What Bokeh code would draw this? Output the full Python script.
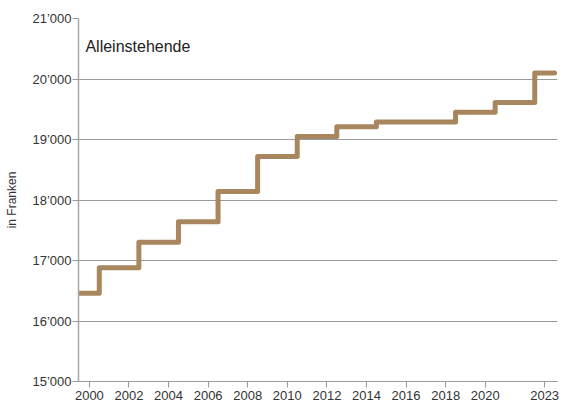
from bokeh.plotting import figure
from bokeh.models import FixedTicker, Label
from bokeh.embed import file_html
from bokeh.resources import INLINE

years = list(range(2000, 2024))
values = [16460, 16880, 16880, 17300, 17300, 17640, 17640, 18140, 18140,
          18720, 18720, 19050, 19050, 19210, 19210, 19290, 19290, 19290,
          19290, 19450, 19450, 19610, 19610, 20100]
x_ticks = [2000, 2002, 2004, 2006, 2008, 2010, 2012, 2014, 2016, 2018, 2020, 2023]
y_ticks = [15000, 16000, 17000, 18000, 19000, 20000, 21000]
y_labels = {v: f"{v // 1000}\u2019000" for v in y_ticks}
title = "Alleinstehende"
y_title = "in Franken"

# step edges: each yearly value holds from year-0.5 to year+0.5
xs = [y - 0.5 for y in years] + [years[-1] + 0.5]
ys = values + [values[-1]]

FONT = "Liberation Sans"
GRID = "#9a9a9a"

p = figure(width=563, height=406, output_backend="svg", toolbar_location=None,
           x_range=(1999.45, 2023.65), y_range=(15000, 21000),
           min_border_left=78, min_border_right=6, min_border_top=18,
           min_border_bottom=25)
p.outline_line_color = None
p.xgrid.grid_line_color = None
p.ygrid.grid_line_color = GRID
p.ygrid.grid_line_width = 1
p.ygrid.ticker = FixedTicker(ticks=y_ticks)

p.xaxis.ticker = FixedTicker(ticks=x_ticks)
p.xaxis.axis_line_color = GRID
p.xaxis.major_tick_line_color = GRID
p.xaxis.major_tick_out = 6
p.xaxis.major_tick_in = 0
p.xaxis.minor_tick_line_color = None
p.xaxis.major_label_text_font = FONT
p.xaxis.major_label_text_font_size = "13px"
p.xaxis.major_label_text_color = "#333333"
p.xaxis.major_label_standoff = 3

p.yaxis.ticker = FixedTicker(ticks=y_ticks)
p.yaxis.major_label_overrides = y_labels
p.yaxis.axis_line_color = "#a8a8a8"
p.yaxis.axis_line_width = 1.5
p.yaxis.major_tick_line_color = GRID
p.yaxis.major_tick_out = 6
p.yaxis.major_tick_in = 0
p.yaxis.minor_tick_line_color = None
p.yaxis.major_label_text_font = FONT
p.yaxis.major_label_text_font_size = "13px"
p.yaxis.major_label_text_color = "#333333"
p.yaxis.major_label_standoff = 1
p.yaxis.axis_label = y_title
p.yaxis.axis_label_text_font = FONT
p.yaxis.axis_label_text_font_size = "12px"
p.yaxis.axis_label_text_font_style = "normal"
p.yaxis.axis_label_text_color = "#333333"
p.yaxis.axis_label_standoff = 10

p.step(x=xs, y=ys, mode="after", line_color="#a8865e", line_width=5,
       line_join="round", line_cap="round")

p.add_layout(Label(x=1999.8, y=20540, text=title, text_font=FONT,
                   text_font_size="16px", text_color="#222222",
                   text_baseline="middle"))

open("out.html", "w").write(file_html(p, INLINE))
